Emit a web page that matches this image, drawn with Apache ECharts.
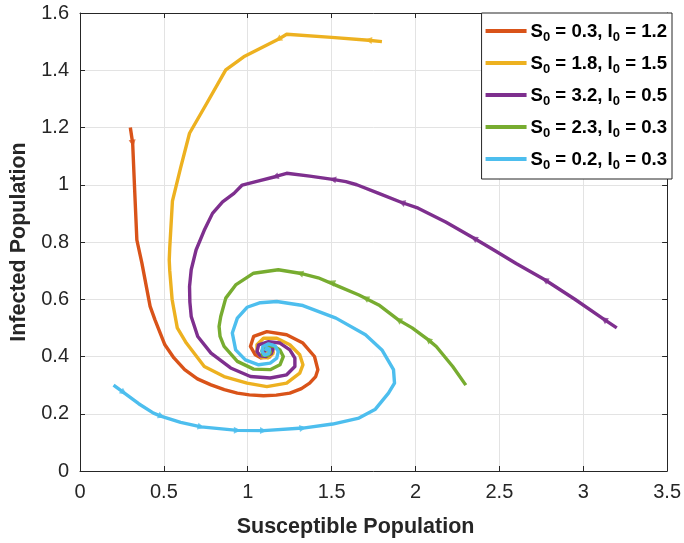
<!DOCTYPE html>
<html>
<head>
<meta charset="utf-8">
<script src="https://cdn.jsdelivr.net/npm/echarts@6/dist/echarts.min.js"></script>
<style>
  html, body { margin: 0; padding: 0; background: #fff; }
  #chart { width: 684px; height: 543px; }
</style>
</head>
<body>
<div id="chart"></div>
<script>
// Phase-plane trajectories (S, I) for several initial conditions of the SIR-type model

const initS = ['0.3', '1.8', '3.2', '2.3', '0.2'];
const initI = ['1.2', '1.5', '0.5', '0.3', '0.3'];

const xTicks = [0, 0.5, 1, 1.5, 2, 2.5, 3, 3.5];
const yTicks = [0, 0.2, 0.4, 0.6, 0.8, 1, 1.2, 1.4, 1.6];

// S0 = 0.3, I0 = 1.2
const redS = [0.30, 0.314, 0.325, 0.339, 0.369, 0.418, 0.447, 0.506, 0.560, 0.624, 0.700, 0.781, 0.860, 0.938, 1.010, 1.094, 1.170, 1.251, 1.320, 1.369, 1.405, 1.418, 1.398, 1.329, 1.232, 1.114, 1.035, 1.016, 1.045, 1.080, 1.130, 1.150, 1.140, 1.115, 1.095, 1.095, 1.110, 1.120, 1.112, 1.105];
const redI = [1.20, 1.145, 0.993, 0.807, 0.726, 0.575, 0.528, 0.441, 0.395, 0.354, 0.322, 0.301, 0.284, 0.272, 0.266, 0.263, 0.265, 0.272, 0.288, 0.307, 0.330, 0.354, 0.400, 0.447, 0.476, 0.487, 0.470, 0.435, 0.406, 0.395, 0.398, 0.415, 0.432, 0.438, 0.430, 0.415, 0.410, 0.418, 0.425, 0.421];

// S0 = 1.8, I0 = 1.5
const yellowS = [1.80, 1.72, 1.50, 1.232, 1.182, 0.976, 0.869, 0.761, 0.653, 0.600, 0.551, 0.535, 0.532, 0.535, 0.549, 0.555, 0.580, 0.634, 0.741, 0.859, 0.996, 1.114, 1.232, 1.310, 1.329, 1.310, 1.251, 1.173, 1.094, 1.055, 1.055, 1.080, 1.120, 1.150, 1.150, 1.125, 1.100, 1.095, 1.110, 1.120, 1.110, 1.105];
const yellowI = [1.50, 1.505, 1.515, 1.526, 1.508, 1.447, 1.401, 1.290, 1.180, 1.060, 0.943, 0.780, 0.737, 0.700, 0.600, 0.580, 0.500, 0.447, 0.365, 0.330, 0.307, 0.295, 0.307, 0.342, 0.371, 0.406, 0.441, 0.464, 0.464, 0.441, 0.415, 0.398, 0.395, 0.410, 0.430, 0.440, 0.435, 0.420, 0.412, 0.420, 0.427, 0.421];

// S0 = 3.2, I0 = 0.5
const purpleS = [3.20, 3.124, 2.950, 2.771, 2.600, 2.467, 2.349, 2.180, 2.016, 1.918, 1.781, 1.650, 1.585, 1.506, 1.370, 1.232, 1.163, 1.060, 0.967, 0.918, 0.850, 0.790, 0.740, 0.692, 0.663, 0.653, 0.655, 0.663, 0.702, 0.781, 0.898, 1.016, 1.134, 1.232, 1.281, 1.281, 1.251, 1.192, 1.124, 1.065, 1.055, 1.075, 1.110, 1.140, 1.150, 1.135, 1.110, 1.100, 1.108, 1.105];
const purpleI = [0.50, 0.530, 0.600, 0.668, 0.725, 0.772, 0.813, 0.870, 0.918, 0.938, 0.970, 1.000, 1.011, 1.019, 1.030, 1.040, 1.028, 1.013, 0.999, 0.970, 0.940, 0.900, 0.840, 0.772, 0.703, 0.644, 0.590, 0.540, 0.470, 0.412, 0.360, 0.330, 0.325, 0.336, 0.365, 0.394, 0.423, 0.447, 0.452, 0.441, 0.417, 0.402, 0.400, 0.410, 0.425, 0.435, 0.432, 0.420, 0.415, 0.420];

// S0 = 2.3, I0 = 0.3
const greenS = [2.30, 2.222, 2.124, 2.075, 1.980, 1.898, 1.781, 1.663, 1.545, 1.420, 1.310, 1.182, 1.035, 0.928, 0.869, 0.839, 0.829, 0.835, 0.859, 0.938, 1.035, 1.134, 1.192, 1.212, 1.192, 1.153, 1.104, 1.085, 1.090, 1.120, 1.135, 1.125, 1.105, 1.105];
const greenI = [0.30, 0.365, 0.435, 0.459, 0.500, 0.528, 0.580, 0.615, 0.644, 0.675, 0.691, 0.703, 0.691, 0.650, 0.604, 0.540, 0.505, 0.470, 0.435, 0.383, 0.356, 0.354, 0.371, 0.400, 0.423, 0.437, 0.435, 0.420, 0.405, 0.403, 0.415, 0.428, 0.425, 0.420];

// S0 = 0.2, I0 = 0.3
const cyanS = [0.20, 0.261, 0.350, 0.438, 0.486, 0.600, 0.722, 0.938, 1.094, 1.329, 1.506, 1.663, 1.761, 1.839, 1.875, 1.869, 1.800, 1.702, 1.526, 1.329, 1.173, 1.075, 0.996, 0.938, 0.908, 0.928, 0.986, 1.065, 1.134, 1.173, 1.182, 1.163, 1.124, 1.090, 1.085, 1.100, 1.125, 1.130, 1.115, 1.105];
const cyanI = [0.30, 0.274, 0.235, 0.202, 0.191, 0.170, 0.154, 0.142, 0.141, 0.150, 0.164, 0.185, 0.216, 0.272, 0.307, 0.354, 0.423, 0.476, 0.534, 0.578, 0.592, 0.588, 0.572, 0.534, 0.482, 0.423, 0.388, 0.371, 0.377, 0.394, 0.417, 0.437, 0.444, 0.435, 0.418, 0.405, 0.410, 0.425, 0.430, 0.420];

// Direction arrowheads placed along each trajectory
const redArrowS = [0.314];
const redArrowI = [1.145];
const yellowArrowS = [1.72, 1.182];
const yellowArrowI = [1.505, 1.508];
const purpleArrowS = [3.124, 2.771, 2.349, 1.918, 1.506, 1.163];
const purpleArrowI = [0.530, 0.668, 0.813, 0.938, 1.019, 1.028];
const greenArrowS = [2.075, 1.898, 1.702, 1.500, 1.310];
const greenArrowI = [0.459, 0.528, 0.604, 0.660, 0.691];
const cyanArrowS = [0.261, 0.486, 0.722, 0.938, 1.094, 1.329];
const cyanArrowI = [0.274, 0.191, 0.154, 0.142, 0.141, 0.150];

const colors = ['#D95319', '#EDB120', '#7E2F8E', '#77AC30', '#4DBEEE'];
const trajS = [redS, yellowS, purpleS, greenS, cyanS];
const trajI = [redI, yellowI, purpleI, greenI, cyanI];
const arrowS = [redArrowS, yellowArrowS, purpleArrowS, greenArrowS, cyanArrowS];
const arrowI = [redArrowI, yellowArrowI, purpleArrowI, greenArrowI, cyanArrowI];

const names = initS.map((s, k) => 'S0 = ' + s + ', I0 = ' + initI[k]);

const zip = (a, b) => a.map((v, k) => [v, b[k]]);

const axisColor = '#262626';
const fontFamily = 'Liberation Sans, Arial, sans-serif';
const tickFont = { fontFamily: fontFamily, fontSize: 20, color: axisColor };
const titleFont = { fontFamily: fontFamily, fontSize: 21.5, fontWeight: 'bold', color: axisColor };

const chart = echarts.init(document.getElementById('chart'), null, { renderer: 'canvas' });

const baseX = {
  type: 'value', min: xTicks[0], max: xTicks[xTicks.length - 1], interval: 0.5
};
const baseY = {
  type: 'value', min: yTicks[0], max: yTicks[yTicks.length - 1], interval: 0.2
};

const lineSeries = names.map((nm, k) => ({
  name: nm,
  type: 'line',
  xAxisIndex: 0,
  yAxisIndex: 0,
  data: zip(trajS[k], trajI[k]),
  showSymbol: false,
  symbol: 'none',
  smooth: false,
  lineStyle: { width: 3.4, color: colors[k], join: 'round' },
  itemStyle: { color: colors[k] },
  z: 2 + k
}));

chart.setOption({
  animation: false,
  backgroundColor: '#ffffff',
  color: colors,
  grid: { left: 77, right: 12, top: 13, bottom: 72, containLabel: false },
  xAxis: [
    Object.assign({}, baseX, {
      position: 'bottom',
      name: 'Susceptible Population',
      nameLocation: 'middle',
      nameGap: 45,
      nameTextStyle: Object.assign({ padding: [0, 36, 0, 0] }, titleFont),
      axisLine: { show: true, lineStyle: { color: axisColor, width: 1 } },
      axisTick: { show: true, inside: true, length: 5, lineStyle: { color: axisColor } },
      axisLabel: Object.assign({ margin: 11, formatter: v => String(v) }, tickFont),
      splitLine: { show: true, lineStyle: { color: '#e3e3e3', width: 1 } }
    }),
    Object.assign({}, baseX, {
      position: 'top',
      axisLine: { show: true, onZero: false, lineStyle: { color: axisColor, width: 1 } },
      axisTick: { show: true, inside: true, length: 5, lineStyle: { color: axisColor } },
      axisLabel: { show: false },
      splitLine: { show: false }
    })
  ],
  yAxis: [
    Object.assign({}, baseY, {
      position: 'left',
      name: 'Infected Population',
      nameLocation: 'middle',
      nameGap: 50,
      nameTextStyle: titleFont,
      axisLine: { show: true, lineStyle: { color: axisColor, width: 1 } },
      axisTick: { show: true, inside: true, length: 5, lineStyle: { color: axisColor } },
      axisLabel: Object.assign({ margin: 11, formatter: v => String(Math.round(v * 10) / 10) }, tickFont),
      splitLine: { show: true, lineStyle: { color: '#e3e3e3', width: 1 } }
    }),
    Object.assign({}, baseY, {
      position: 'right',
      axisLine: { show: true, onZero: false, lineStyle: { color: axisColor, width: 1 } },
      axisTick: { show: true, inside: true, length: 5, lineStyle: { color: axisColor } },
      axisLabel: { show: false },
      splitLine: { show: false }
    })
  ],
  legend: {
    right: 12,
    top: 13,
    orient: 'vertical',
    backgroundColor: '#ffffff',
    borderColor: axisColor,
    borderWidth: 1,
    padding: [9, 5, 7, 4],
    itemGap: 10,
    itemWidth: 41,
    itemHeight: 4,
    icon: 'rect',
    data: names,
    formatter: function (name) {
      const k = names.indexOf(name);
      return '{b|S}{s|0}{b| = ' + initS[k] + ', I}{s|0}{b| = ' + initI[k] + '}';
    },
    textStyle: {
      padding: [0, 0, 0, -1],
      rich: {
        b: { fontFamily: fontFamily, fontSize: 18.6, fontWeight: 'bold', color: '#000', lineHeight: 18, verticalAlign: 'top' },
        s: { fontFamily: fontFamily, fontSize: 13, fontWeight: 'bold', color: '#000', lineHeight: 13, padding: [9, 0, 0, 0], verticalAlign: 'top' }
      }
    }
  },
  series: lineSeries
});

// Orient each arrowhead along the trajectory segment it sits on (screen space)
function headingAt(k, s, i) {
  const S = trajS[k], I = trajI[k];
  let best = 0, bestD = Infinity;
  for (let j = 0; j < S.length - 1; j++) {
    const mx = (S[j] + S[j + 1]) / 2, my = (I[j] + I[j + 1]) / 2;
    const d = (mx - s) * (mx - s) + (my - i) * (my - i);
    if (d < bestD) { bestD = d; best = j; }
  }
  const p0 = chart.convertToPixel({ gridIndex: 0 }, [S[best], I[best]]);
  const p1 = chart.convertToPixel({ gridIndex: 0 }, [S[best + 1], I[best + 1]]);
  const ang = Math.atan2(-(p1[1] - p0[1]), p1[0] - p0[0]) * 180 / Math.PI;
  return ang - 90;
}

const arrowSeries = names.map((nm, k) => ({
  type: 'scatter',
  xAxisIndex: 0,
  yAxisIndex: 0,
  silent: true,
  symbol: 'triangle',
  symbolSize: [7, 7],
  itemStyle: { color: colors[k] },
  z: 2 + k,
  data: arrowS[k].map((s, j) => ({
    value: [s, arrowI[k][j]],
    symbolRotate: headingAt(k, s, arrowI[k][j])
  }))
}));

chart.setOption({ series: lineSeries.concat(arrowSeries) });
</script>
</body>
</html>
